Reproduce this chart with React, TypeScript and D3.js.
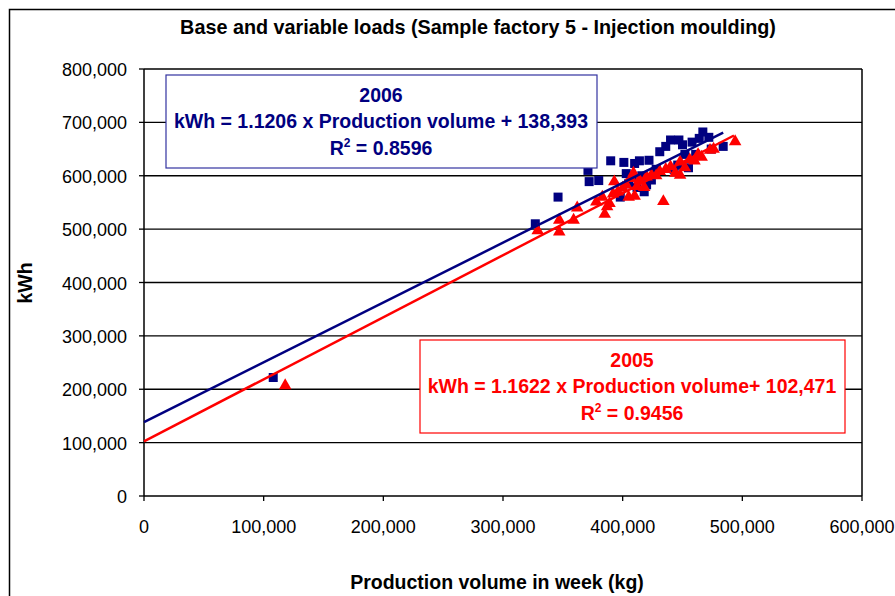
import React from "react";
import * as d3 from "d3";

const W = 895;
const H = 596;

const xTicks = [0, 100000, 200000, 300000, 400000, 500000, 600000];
const yTicks = [0, 100000, 200000, 300000, 400000, 500000, 600000, 700000, 800000];

const data2006: [number, number][] = [
  [108000, 222000], [327000, 510000], [346000, 560000], [371000, 610000], [372000, 589000],
  [380000, 591000], [390000, 628000], [398000, 560000], [401000, 625000], [403000, 604000],
  [405000, 585000], [408000, 596000], [410000, 623000], [412000, 578000], [414000, 628000],
  [416000, 600000], [418000, 570000], [420000, 583000], [422000, 629000], [424000, 592000],
  [428000, 612000], [431000, 645000], [436000, 655000], [440000, 667000], [443000, 612000],
  [446000, 620000], [447000, 667000], [450000, 658000], [452000, 640000], [455000, 615000],
  [458000, 663000], [461000, 640000], [464000, 670000], [467000, 682000], [472000, 672000],
  [474000, 650000], [484000, 655000],
];

const data2005: [number, number][] = [
  [118000, 207000], [329000, 497000], [347000, 517000], [347000, 495000], [359000, 517000],
  [362000, 540000], [378000, 551000], [383000, 560000], [385000, 528000], [387000, 542000],
  [389000, 548000], [392000, 566000], [393000, 589000], [396000, 570000], [400000, 577000],
  [403000, 583000], [405000, 560000], [407000, 595000], [409000, 605000], [410000, 562000],
  [412000, 580000], [414000, 592000], [418000, 578000], [420000, 598000], [424000, 601000],
  [428000, 600000], [431000, 608000], [434000, 552000], [436000, 612000], [440000, 617000],
  [444000, 605000], [448000, 626000], [448000, 601000], [452000, 615000], [456000, 630000],
  [460000, 628000], [463000, 640000], [466000, 635000], [473000, 648000], [476000, 650000],
  [494000, 664000],
];

const fit2006 = { slope: 1.1206, intercept: 138393, xEnd: 484000 };
const fit2005 = { slope: 1.1622, intercept: 102471, xEnd: 493000 };

const NAVY = "#000080";
const RED = "#ff0000";
const FONT = "'Liberation Sans', Arial, sans-serif";

export default function App() {
  const left = 144, right = 862, top = 69, bottom = 496;
  const x = d3.scaleLinear().domain([0, 600000]).range([left, right]);
  const y = d3.scaleLinear().domain([0, 800000]).range([bottom, top]);
  const fmt = d3.format(",");
  const line = d3.line<[number, number]>().x((d) => x(d[0])).y((d) => y(d[1]));
  const fitLine = (f: { slope: number; intercept: number; xEnd: number }) =>
    line([
      [0, f.intercept],
      [f.xEnd, f.slope * f.xEnd + f.intercept],
    ]) || "";
  const tri = d3.symbol().type(d3.symbolTriangle).size(68)() || "";

  return (
    <svg width={W} height={H} style={{ position: "absolute", left: 0, top: 0, background: "#fff" }} fontFamily={FONT}>
      <rect x={9.5} y={9.5} width={W + 20} height={H + 20} fill="#fff" stroke="#000" strokeWidth={1.5} />
      <text x={478} y={34} textAnchor="middle" fontWeight="bold" fontSize={19.8}>
        Base and variable loads (Sample factory 5 - Injection moulding)
      </text>
      <rect x={left} y={top} width={right - left} height={bottom - top} fill="#fff" />
      {yTicks.map((t) => (
        <g key={"y" + t}>
          <line x1={left} x2={right} y1={y(t)} y2={y(t)} stroke="#000" strokeWidth={1.3} />
          <line x1={left - 5} x2={left} y1={y(t)} y2={y(t)} stroke="#000" strokeWidth={1.3} />
          <text x={127} y={y(t) + 7} textAnchor="end" fontSize={18}>
            {fmt(t)}
          </text>
        </g>
      ))}
      <line x1={left} x2={left} y1={top} y2={bottom} stroke="#000" strokeWidth={1.5} />
      <line x1={right} x2={right} y1={top} y2={bottom} stroke="#000" strokeWidth={1.5} />
      {xTicks.map((t) => (
        <g key={"x" + t}>
          <line x1={x(t)} x2={x(t)} y1={bottom} y2={bottom + 5} stroke="#000" strokeWidth={1.3} />
          <text x={x(t)} y={bottom + 37} textAnchor="middle" fontSize={18}>
            {fmt(t)}
          </text>
        </g>
      ))}
      <text x={497} y={589} textAnchor="middle" fontWeight="bold" fontSize={19.5}>
        Production volume in week (kg)
      </text>
      <text transform={`translate(32,283) rotate(-90)`} textAnchor="middle" fontWeight="bold" fontSize={19.5}>
        kWh
      </text>

      {data2006.map((d, i) => (
        <rect key={"b" + i} x={x(d[0]) - 4.5} y={y(d[1]) - 4.5} width={9} height={9} fill={NAVY} />
      ))}
      {data2005.map((d, i) => (
        <path key={"r" + i} d={tri} transform={`translate(${x(d[0])},${y(d[1])})`} fill={RED} />
      ))}
      <path d={fitLine(fit2006)} stroke={NAVY} strokeWidth={2.5} fill="none" />
      <path d={fitLine(fit2005)} stroke={RED} strokeWidth={2.5} fill="none" />

      <rect x={166} y={75} width={431} height={93} fill="#fff" stroke="#3333a0" strokeWidth={1.2} />
      <g fill={NAVY} fontWeight="bold" fontSize={19.5} textAnchor="middle">
        <text x={381} y={102}>2006</text>
        <text x={381} y={128}>kWh = 1.1206 x Production volume + 138,393</text>
        <text x={381} y={155}>
          R<tspan dy={-8} fontSize={12}>2</tspan>
          <tspan dy={8}> = 0.8596</tspan>
        </text>
      </g>

      <rect x={420} y={340} width={425} height={93} fill="#fff" stroke={RED} strokeWidth={1.2} />
      <g fill={RED} fontWeight="bold" fontSize={19.5} textAnchor="middle">
        <text x={632} y={367}>2005</text>
        <text x={632} y={393}>kWh = 1.1622 x Production volume+ 102,471</text>
        <text x={632} y={420}>
          R<tspan dy={-8} fontSize={12}>2</tspan>
          <tspan dy={8}> = 0.9456</tspan>
        </text>
      </g>
    </svg>
  );
}
